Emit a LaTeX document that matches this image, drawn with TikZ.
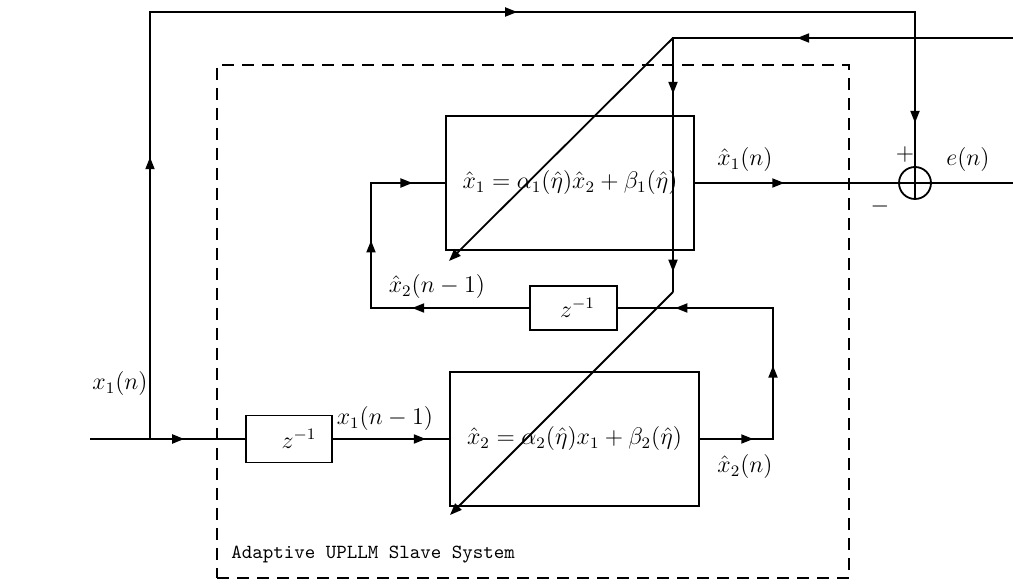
\documentclass[tikz,border=0pt]{standalone}
\usetikzlibrary{arrows.meta,decorations.markings,calc}
\begin{document}
\tikzset{
  ln/.style={line width=0.9pt},
  blk/.style={draw, line width=0.9pt, inner sep=0pt},
  ar/.style={postaction={decorate,decoration={markings,mark=at position #1 with {\arrow{Triangle[length=6pt,width=4.5pt]}}}}},
  endar/.style={-{Triangle[length=6pt,width=4.5pt]}},
  lbl/.style={inner sep=0pt}
}
\begin{tikzpicture}[x=0.5pt,y=-0.5pt,font=\fontsize{12}{14}\selectfont]
\useasboundingbox (0,0) rectangle (1013,587);
% system frame
\node[draw, line width=0.9pt, dash pattern=on 6pt off 4pt, minimum width=316pt, minimum height=256.5pt, inner sep=0pt] (sys) at (533,321.5) {};
\node[lbl, anchor=west, font=\fontsize{10}{12}\selectfont\ttfamily] (syslbl) at (231,555) {Adaptive UPLLM Slave System};
% blocks
\node[blk, minimum width=124pt, minimum height=67pt] (b1) at (570,183) {$\hat{x}_1=\alpha_1(\hat{\eta})\hat{x}_2+\beta_1(\hat{\eta})$};
\node[blk, minimum width=124.5pt, minimum height=67pt] (b2) at (574.5,439) {$\hat{x}_2=\alpha_2(\hat{\eta})x_1+\beta_2(\hat{\eta})$};
\node[blk, minimum width=43.5pt, minimum height=22pt] (z1) at (573.5,308) {\hspace{4pt}$z^{-1}$};
\node[blk, minimum width=43pt, minimum height=23.5pt] (z2) at (289,439) {\hspace{10pt}$z^{-1}$};
\node[draw, circle, line width=0.9pt, minimum size=16pt, inner sep=0pt] (sum) at (915,183) {};
% coordinates
\coordinate (in) at (90,439);
\coordinate (j1) at (150,439);
\coordinate (c1) at (150,12);
\coordinate (c2) at (915,12);
\coordinate (rin) at (1013,38);
\coordinate (k) at (673,38);
\coordinate (kb) at (673,292);
\coordinate (d1) at (449,261);
\coordinate (d2) at (450,515);
\coordinate (out) at (1013,183);
\coordinate (f1) at (371,308);
\coordinate (f2) at (371,183);
\coordinate (g1) at (773,439);
\coordinate (g2) at (773,308);
% input path
\draw[ln] (in) -- (j1);
\draw[ln, ar=0.36] (j1) -- (z2.west);
\draw[ln] (j1) -- (c1) -- (c2) -- (sum.north);
\draw[ln, ar=0.66] (j1) -- (c1);
\draw[ln, ar=0.48] (c1) -- (c2);
\draw[ln, ar=0.72] (c2) -- (sum.north);
\draw[ln] (sum.north) -- (sum.south);
\draw[ln] (sum.west) -- (sum.east);
\draw[ln] (sum.east) -- (out);
\draw[ln, ar=0.8] (z2.east) -- (b2.west);
% x2 output loop
\draw[ln] (b2.east) -- (g1) -- (g2) -- (z1.east);
\draw[ln, ar=0.73] (b2.east) -- (g1);
\draw[ln, ar=0.56] (g1) -- (g2);
\draw[ln, ar=0.63] (g2) -- (z1.east);
% feedback to block 1
\draw[ln] (z1.west) -- (f1) -- (f2) -- (b1.west);
\draw[ln, ar=0.74] (z1.west) -- (f1);
\draw[ln, ar=0.54] (f1) -- (f2);
\draw[ln, ar=0.56] (f2) -- (b1.west);
% x1 output
\draw[ln, ar=0.44] (b1.east) -- (sum.west);
% adaptation signal
\draw[ln] (rin) -- (k) -- (kb);
\draw[ln, ar=0.635] (rin) -- (k);
\draw[ln, ar=0.22] (k) -- (kb);
\draw[ln, ar=0.92] (k) -- (kb);
\draw[ln, endar] (k) -- (d1);
\draw[ln, endar] (kb) -- (d2);
% labels
\node[lbl] (lx1n) at (745,160) {$\hat{x}_1(n)$};
\node[lbl] (lplus) at (905,155) {$+$};
\node[lbl] (lminus) at (880,207) {$-$};
\node[lbl] (len) at (968,160) {$e(n)$};
\node[lbl] (lx2nm) at (437,287) {$\hat{x}_2(n-1)$};
\node[lbl] (lx1nm) at (385,419) {$x_1(n-1)$};
\node[lbl] (lx1) at (120,384) {$x_1(n)$};
\node[lbl] (lx2n) at (745,467) {$\hat{x}_2(n)$};
\end{tikzpicture}
\end{document}
